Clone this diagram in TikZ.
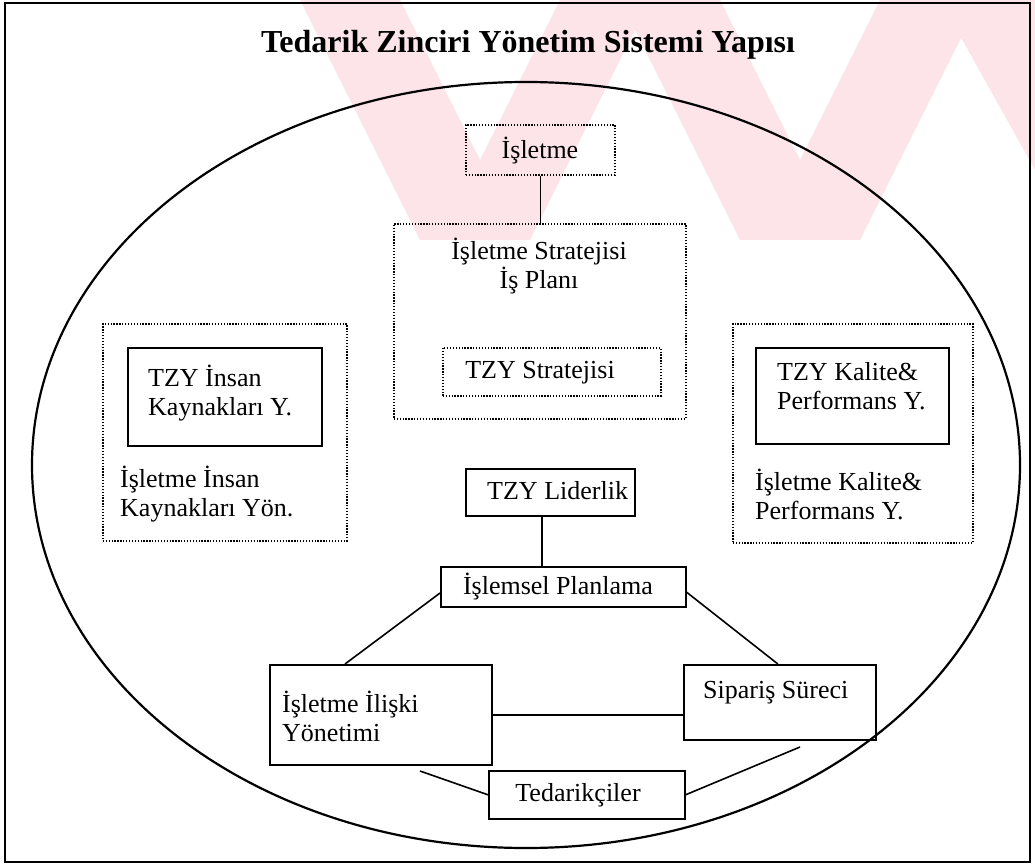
\documentclass[tikz,border=0pt]{standalone}
\usepackage{fontspec}
\setmainfont{Liberation Serif}
\usetikzlibrary{calc}
\definecolor{wm}{RGB}{252,228,233}
\tikzset{
  lbl/.style={inner sep=0pt, font=\fontsize{26}{29}\selectfont},
  solidbox/.style={draw, line width=1.6pt, inner sep=0pt, anchor=north west},
  dotbox/.style={draw, line width=1.6pt, dash pattern=on 1.3pt off 1.6pt, inner sep=0pt, anchor=north west},
  link/.style={line width=1.6pt},
}
\begin{document}
\begin{tikzpicture}[x=1pt,y=-1pt]
\useasboundingbox (0,0) rectangle (1035,866);
% watermark stripes
\begin{scope}
\clip (0,0) rectangle (1035,240);
\fill[wm] (300,0) -- (400,0) -- (520,240) -- (420,240) -- cycle;
\fill[wm] (560,0) -- (650,0) -- (530,240) -- (440,240) -- cycle;
\fill[wm] (620,0) -- (720,0) -- (840,240) -- (740,240) -- cycle;
\fill[wm] (880,0) -- (980,0) -- (860,240) -- (760,240) -- cycle;
\fill[wm] (940,0) -- (1035,0) -- (1035,170) -- cycle;
\end{scope}
% outer frame
\draw[line width=1.5pt] (5,3) rectangle (1030,862);
\node[font=\bfseries\fontsize{32}{36}\selectfont] (title) at (528,45) {Tedarik Zinciri Yönetim Sistemi Yapısı};
% enclosing ellipse
\draw[line width=2.2pt] (526,465) ellipse [x radius=494, y radius=383];

% company and strategy
\node[dotbox, minimum width=149pt, minimum height=50pt] (isl) at (465,124) {};
\node[lbl] (islT) at (540,151) {İşletme};
\node[dotbox, minimum width=292pt, minimum height=195pt] (strat) at (393,223) {};
\node[lbl, align=center] (stratT) at (539,266) {İşletme Stratejisi\\İş Planı};
\node[dotbox, minimum width=218pt, minimum height=48pt] (tzys) at (442,347) {};
\node[lbl] (tzysT) at (540,373) {TZY Stratejisi};
\draw[link] (isl.south) -- (isl.south |- strat.north);

% human resources
\node[dotbox, minimum width=244pt, minimum height=217pt] (hr) at (102,323) {};
\node[solidbox, minimum width=194pt, minimum height=98pt] (hri) at (127,347) {};
\node[lbl, align=left, anchor=west] (hriT) at (148,393) {TZY İnsan\\Kaynakları Y.};
\node[lbl, align=left, anchor=west] (hrT) at (120,494) {İşletme İnsan\\Kaynakları Yön.};

% quality and performance
\node[dotbox, minimum width=240pt, minimum height=219pt] (qp) at (732,323) {};
\node[solidbox, minimum width=193pt, minimum height=96pt] (qpi) at (755,347) {};
\node[lbl, align=left, anchor=west] (qpiT) at (777,386) {TZY Kalite\&\\Performans Y.};
\node[lbl, align=left, anchor=west] (qpT) at (755,494) {İşletme Kalite\&\\Performans Y.};

% leadership and operations
\node[solidbox, minimum width=169pt, minimum height=47pt] (lead) at (465,468) {};
\node[lbl, anchor=west] (leadT) at (487,491) {TZY Liderlik};
\node[solidbox, minimum width=245pt, minimum height=40pt] (ops) at (440,566) {};
\node[lbl] (opsT) at (558,587) {İşlemsel Planlama};
\coordinate (lx) at (542,0);
\draw[link] (lead.south -| lx) -- (ops.north -| lx);

\node[solidbox, minimum width=222pt, minimum height=100pt] (rel) at (269,664) {};
\node[lbl, align=left, anchor=west] (relT) at (282,716) {İşletme İlişki\\Yönetimi};
\node[solidbox, minimum width=192pt, minimum height=75pt] (ord) at (683,664) {};
\node[lbl, anchor=west] (ordT) at (703,693) {Sipariş Süreci};
\node[solidbox, minimum width=196pt, minimum height=48pt] (sup) at (488,770) {};
\node[lbl] (supT) at (578,795) {Tedarikçiler};

\draw[link] ($(ops.north west)!0.65!(ops.south west)$) -- ($(rel.north west)!0.34!(rel.north east)$);
\draw[link] ($(ops.north east)!0.63!(ops.south east)$) -- ($(ord.north west)!0.49!(ord.north east)$);
\draw[link] (rel.east) -- (rel.east -| ord.west);
\coordinate (relfoot) at (420,771);
\coordinate (ordfoot) at (800,747);
\draw[link] (relfoot) -- (sup.west);
\draw[link] (sup.east) -- (ordfoot);
\end{tikzpicture}
\end{document}
